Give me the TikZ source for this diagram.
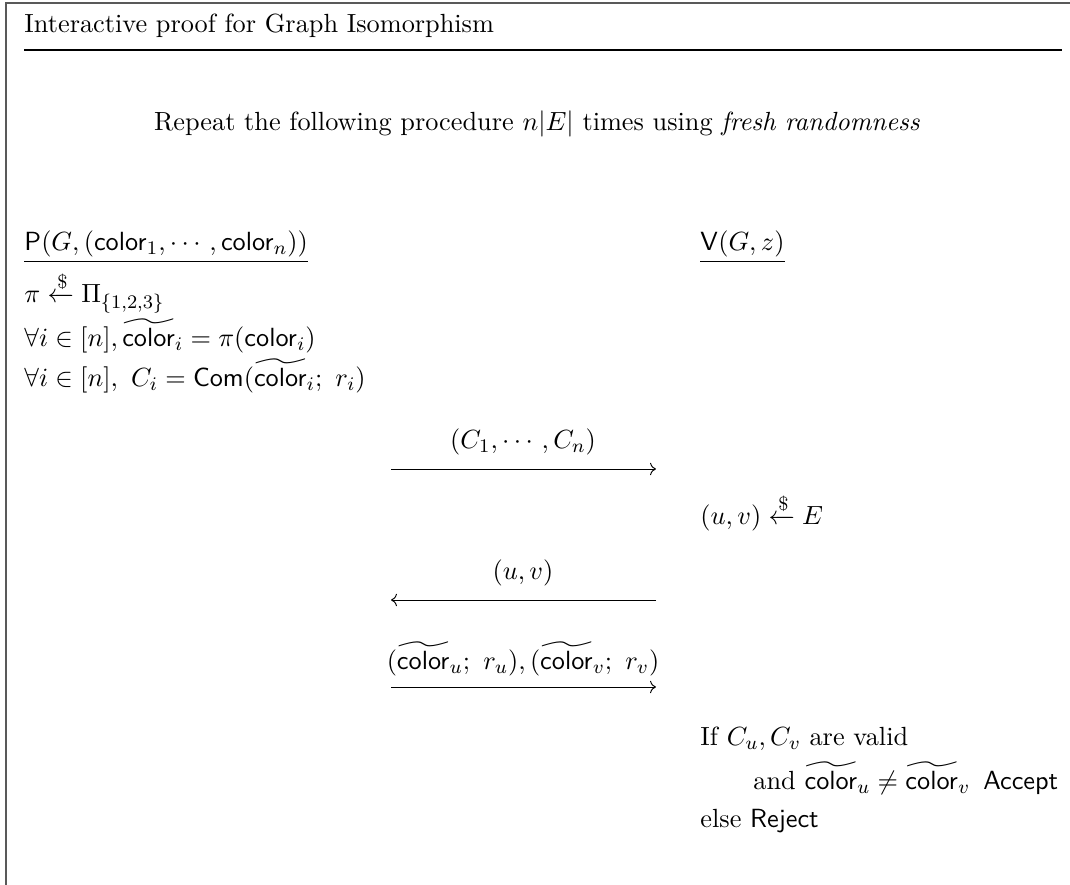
\documentclass[tikz,border=0pt]{standalone}
\usepackage{amsmath, amssymb}
\usepackage{tikz}
\usetikzlibrary{positioning, arrows.meta}

\begin{document}
\begin{tikzpicture}[x=0.4167pt, y=-0.4167pt, every node/.style={inner sep=0pt, anchor=base west, font=\fontsize{10.95}{13.6}\selectfont}]
    \useasboundingbox (0,0) rectangle (1070,885);

        % Frame
        \draw[black!65, line width=0.7pt] (6,885) -- (6,3) -- (1070,3);
        \node (title) at (24,33) {Interactive proof for Graph Isomorphism};
        \coordinate (tl) at (24,50);
        \coordinate (tr) at (1062,50);
        \draw[line width=0.5pt] (tl) -- (tr);

        % Repetition
        \node[anchor=base] (rep) at (537,131) {Repeat the following procedure $n|E|$ times using \emph{fresh randomness}};

        % Prover side
        \node (prover) at (24,251) {$\underline{\mathsf{P}(G, (\mathsf{color}_1, \cdots, \mathsf{color}_n))}$};
        \node (p1) at (24,303) {$\pi \xleftarrow{\$} \Pi_{\{1,2,3\}}$};
        \node (p2) at (24,347) {$\forall i \in [n], \widetilde{\mathsf{color}}_i = \pi(\mathsf{color}_i)$};
        \node (p3) at (24,387) {$\forall i \in [n],\ C_i = \mathsf{Com}(\widetilde{\mathsf{color}}_i;\ r_i)$};

        % Verifier side
        \node (verifier) at (700,251) {$\underline{\mathsf{V}(G, z)}$};
        \node (v1) at (700,525) {$(u,v) \xleftarrow{\$} E$};
        \node (v2) at (700,746) {If $C_u, C_v$ are valid};
        \node (v3) at (753,790) {and $\widetilde{\mathsf{color}}_u \neq \widetilde{\mathsf{color}}_v$ \,\textsf{Accept}};
        \node (v4) at (700,828) {else \textsf{Reject}};

        % Messages
        \coordinate (m1l) at (391,469);
        \coordinate (m1r) at (656,469);
        \node[anchor=base] (m1) at (523,449) {$(C_1, \cdots, C_n)$};
        \draw[->] (m1l) -- (m1r);

        \coordinate (m2l) at (391,600);
        \coordinate (m2r) at (656,600);
        \node[anchor=base] (m2) at (523,580) {$(u,v)$};
        \draw[->] (m2r) -- (m2l);

        \coordinate (m3l) at (391,687);
        \coordinate (m3r) at (656,687);
        \node[anchor=base] (m3) at (523,670) {$(\widetilde{\mathsf{color}}_u;\ r_u), (\widetilde{\mathsf{color}}_v;\ r_v)$};
        \draw[->] (m3l) -- (m3r);
    \end{tikzpicture}
\end{document}
